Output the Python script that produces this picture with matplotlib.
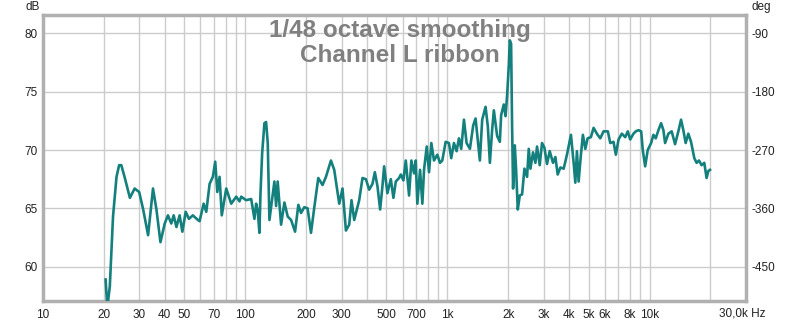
import matplotlib
matplotlib.use('Agg')
import matplotlib.pyplot as plt
from matplotlib.ticker import FixedLocator, FixedFormatter, NullFormatter

freq = [20.4, 20.8, 21.4, 22.2, 23.1, 23.8, 24.4, 25.4, 26.9, 28.4, 29.9, 31.3, 33.1,
        35.0, 36.4, 38.1, 40.0, 41.5, 43.1, 44.3, 45.7, 47.4, 48.9, 50.8, 52.7, 55.1,
        58.4, 59.5, 62.3, 64.2, 66.7, 69.2, 71.1, 72.8, 74.7, 76.6, 80.6, 85.3, 90.3,
        93.7, 95.6, 101.1, 107.1, 111.1, 113.3, 115.4, 117.6, 119.0, 121.3, 124.5,
        126.9, 129.3, 131.8, 135.3, 139.5, 142.2, 144.8, 150.5, 156.3, 162.3, 168.7,
        176.5, 183.2, 188.9, 196.1, 203.6, 211.6, 219.8, 229.9, 241.4, 250.9, 265.6,
        275.7, 291.9, 303.0, 315.0, 327.0, 335.7, 346.2, 366.4, 380.4, 395.4, 410.5,
        426.2, 437.9, 451.1, 465.1, 477.4, 486.7, 505.3, 525.2, 541.0, 555.9, 577.1,
        588.4, 606.0, 622.8, 646.6, 663.7, 684.4, 697.8, 710.6, 732.7, 752.2, 766.8,
        790.7, 811.6, 833.1, 859.0, 891.8, 919.5, 943.8, 980.9, 1018, 1045, 1078, 1111,
        1141, 1171, 1208, 1245, 1293, 1342, 1379, 1416, 1448, 1487, 1545, 1586, 1623,
        1665, 1698, 1763, 1818, 1845, 1902, 1940, 1975, 2014, 2036, 2067, 2090, 2114,
        2155, 2187, 2230, 2281, 2342, 2406, 2479, 2527, 2576, 2653, 2726, 2777, 2863,
        2939, 3020, 3111, 3208, 3331, 3422, 3513, 3622, 3761, 3904, 4086, 4213, 4295,
        4374, 4459, 4577, 4682, 4812, 4939, 5128, 5288, 5490, 5705, 5924, 6220, 6392,
        6636, 6813, 7025, 7293, 7580, 7807, 8023, 8330, 8550, 8817, 9092, 9257, 9513,
        9797, 10183, 10452, 10730, 11064, 11408, 11710, 11937, 12395, 12868, 13375,
        13886, 14318, 14697, 15087, 15556, 16040, 16653, 17093, 17566, 18092, 18655,
        19149, 19523, 19906]
spl = [58.9, 56.5, 58.3, 64.3, 67.7, 68.7, 68.7, 67.6, 65.9, 66.7, 66.4, 64.9, 62.7,
       66.7, 64.9, 62.1, 63.7, 64.4, 63.7, 64.4, 63.4, 64.4, 63.0, 64.7, 64.1, 64.4,
       64.0, 63.9, 65.4, 64.7, 67.1, 67.7, 69.0, 66.4, 67.7, 64.4, 66.7, 65.4, 66.0,
       65.6, 66.0, 65.7, 65.8, 64.1, 65.4, 64.8, 62.9, 66.2, 69.7, 72.3,
       72.4, 70.6, 64.0, 65.5, 67.3, 65.2, 67.3, 63.6, 65.5, 64.3, 64.0,
       63.0, 65.3, 64.6, 65.1, 65.0, 62.9, 65.1, 67.6, 67.0, 67.7, 69.1,
       68.3, 65.4, 66.7, 63.1, 63.6, 65.7, 64.0, 65.7, 67.6, 67.5, 66.6,
       67.1, 68.1, 66.9, 64.9, 66.9, 68.6, 66.3, 67.5, 65.9, 67.3, 67.6,
       67.9, 67.4, 69.1, 66.1, 69.1, 68.0, 69.1, 65.4, 68.3, 65.4, 68.3,
       70.3, 68.1, 70.6, 69.1, 69.6, 68.9, 69.1, 70.7, 70.6, 69.3, 70.6, 69.9,
       71.0, 70.1, 72.6, 70.6, 70.1, 72.1, 72.7, 70.7, 69.1, 72.6, 73.7, 72.0, 68.9,
       71.7, 73.4, 71.2, 70.7, 73.0, 73.9, 72.9, 74.7, 77.3, 79.4, 79.1, 72.1, 66.7,
       70.4, 68.4, 64.9, 66.1, 66.2, 68.4, 67.7, 70.1, 68.4, 69.8, 68.9, 70.3, 68.7,
       70.6, 70.2, 68.8, 69.9, 68.9, 69.4, 67.9, 68.5, 68.4, 69.6, 71.3, 68.9, 67.2,
       69.9, 67.3, 69.6, 71.3, 70.1, 71.0, 71.1, 71.9, 71.4, 71.0, 71.6, 71.6, 70.6,
       70.7, 69.6, 70.9, 71.4, 71.1, 71.6, 70.9, 71.4, 71.6, 71.7, 71.6, 70.0, 68.6,
       70.0, 70.6, 71.3, 71.0, 71.7, 72.3, 71.7, 70.6, 71.4, 71.6, 70.5,
       71.6, 72.6, 71.7, 70.6, 71.4, 70.7, 69.3, 68.9, 69.1, 68.7, 68.9,
       67.6, 68.2, 68.3]

grid_freqs = [20, 30, 40, 50, 60, 70, 80, 90, 100, 200, 300, 400, 500, 600, 700, 800,
              900, 1000, 2000, 3000, 4000, 5000, 6000, 7000, 8000, 9000, 10000, 20000]
label_freqs = [10, 20, 30, 40, 50, 70, 100, 200, 300, 500, 700, 1000, 2000, 3000,
               4000, 5000, 6000, 8000, 10000]
label_text = ['10', '20', '30', '40', '50', '70', '100', '200', '300', '500', '700',
              '1k', '2k', '3k', '4k', '5k', '6k', '8k', '10k']
db_ticks = [60, 65, 70, 75, 80]
deg_ticks = [-90, -180, -270, -360, -450]

plt.rcParams['font.family'] = ['Liberation Sans', 'DejaVu Sans']
plt.rcParams['axes.unicode_minus'] = False

fig = plt.figure(figsize=(8, 3.25), dpi=100)
ax = fig.add_axes([43/800, 1-301/325, 703/800, 286/325])

ax.plot(freq, spl, color='#14807d', lw=1.9, solid_joinstyle='round', zorder=3, clip_on=True)

ax.set_xscale('log')
ax.set_xlim(10, 30000)
y0, y1 = 57.06, 81.57
ax.set_ylim(y0, y1)

ax.xaxis.set_major_locator(FixedLocator(label_freqs))
ax.xaxis.set_major_formatter(FixedFormatter(label_text))
ax.xaxis.set_minor_locator(FixedLocator(grid_freqs))
ax.xaxis.set_minor_formatter(NullFormatter())
ax.set_yticks(db_ticks)

ax.grid(False)
for f in grid_freqs:
    ax.axvline(f, color='#cccccc', lw=1.0, zorder=1)
for d in db_ticks:
    ax.axhline(d, color='#cccccc', lw=1.0, zorder=1)

ax.tick_params(axis='both', which='both', length=0, labelsize=8.5, colors='#222222')
ax.tick_params(axis='x', pad=6)
ax.tick_params(axis='y', pad=4)

for s in ax.spines.values():
    s.set_color('#b0b0b0')
    s.set_linewidth(2.5)

ax2 = ax.twinx()
ax2.set_ylim((y0 - 80) * 18 - 90, (y1 - 80) * 18 - 90)
ax2.set_yticks(deg_ticks)
ax2.tick_params(axis='y', length=0, labelsize=8.5, colors='#222222', pad=4)
for s in ax2.spines.values():
    s.set_visible(False)

fig.text(33/800, 1-7/325, 'dB', ha='center', va='center', fontsize=8.5, color='#222222')
fig.text(761/800, 1-7/325, 'deg', ha='center', va='center', fontsize=8.5, color='#222222')
fig.text(719/800, 1-314/325, '30,0k Hz', ha='left', va='center', fontsize=8.5, color='#222222')

fig.text(400/800, 1-30/325, '1/48 octave smoothing', ha='center', va='center',
         fontsize=17.5, fontweight='bold', color='#808080')
fig.text(400/800, 1-55/325, 'Channel L ribbon', ha='center', va='center',
         fontsize=17.5, fontweight='bold', color='#808080')

fig.savefig('out.png', dpi=100)
